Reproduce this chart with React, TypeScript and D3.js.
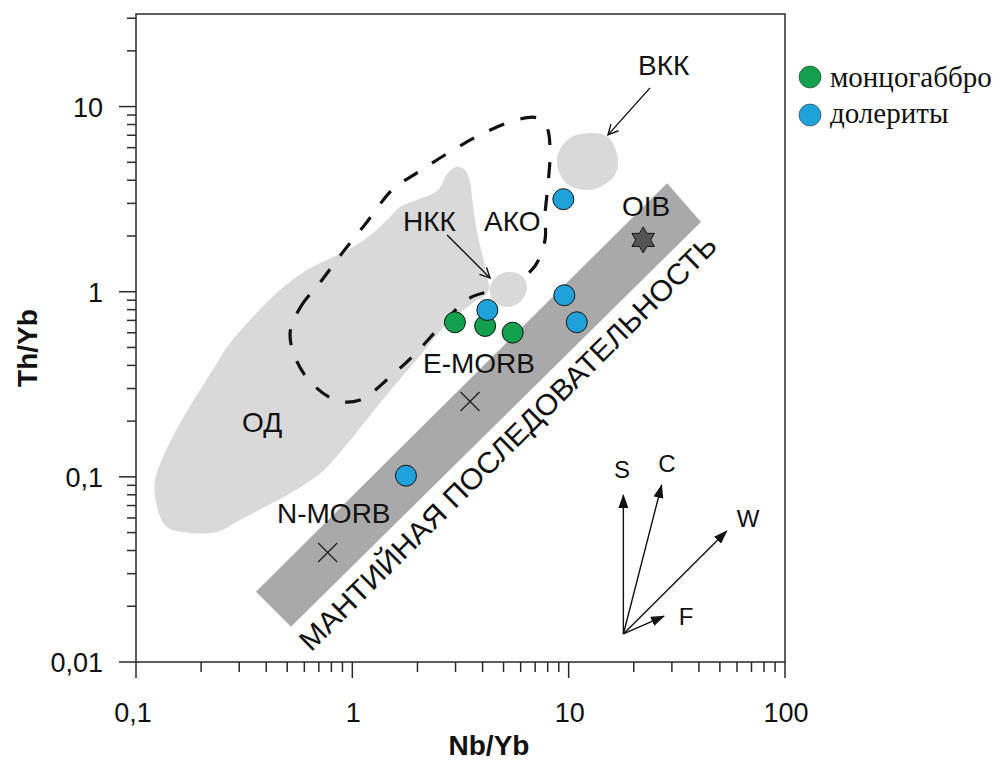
import React from 'react';
import * as d3 from 'd3';

// ---- axis ticks ----
const xMajorTicks = [0.1, 1, 10, 100];
const xTickLabels = ['0,1', '1', '10', '100'];
const yMajorTicks = [0.01, 0.1, 1, 10];
const yTickLabels = ['0,01', '0,1', '1', '10'];
const yExtraMinor = [20, 30];

// ---- samples (Nb/Yb, Th/Yb) ----
const moncogabbro: [number, number][] = [[2.98, 0.684], [4.11, 0.653], [5.51, 0.601]];
const dolerites: [number, number][] = [[9.45, 3.16], [4.21, 0.797], [9.55, 0.957], [10.9, 0.684], [1.77, 0.1015]];
const oibPoint: [number, number] = [22.1, 1.905];
const morbNames = ['E-MORB', 'N-MORB'];
const morbPoints: [number, number][] = [[3.5, 0.255], [0.769, 0.039]];
const morbLabelPos: [number, number][] = [[2.121, 0.3642], [0.4485, 0.0564]];

// ---- fields ----
const mantleBand: [number, number][] = [[0.3587, 0.02398], [28.5, 3.857], [40.9, 2.383], [0.5206, 0.01551]];
const odField: [number, number][] = [
  [0.1224, 0.0962], [0.1333, 0.1281], [0.1598, 0.1955], [0.1976, 0.2948], [0.2368, 0.4124], [0.2635, 0.5032],
  [0.3365, 0.704], [0.463, 1.023], [0.6172, 1.311], [0.814, 1.542], [1.007, 1.746], [1.246, 2.078],
  [1.494, 2.536], [1.661, 2.872], [1.991, 3.133], [2.489, 3.548], [2.74, 4.329], [3.015, 4.723],
  [3.317, 4.55], [3.499, 3.918], [3.574, 3.252], [3.691, 2.443], [3.809, 1.978], [4.018, 1.542], [4.194, 1.202],
  [4.284, 1.023], [3.499, 0.8487], [2.7, 0.66], [2.18, 0.49], [1.6, 0.32], [1.19, 0.21],
  [0.926, 0.146], [0.728, 0.107], [0.535, 0.0835], [0.3026, 0.0585],
  [0.2368, 0.0504], [0.1777, 0.0498], [0.139, 0.0536], [0.1251, 0.0688],
];
const akoField: [number, number][] = [
  [0.5151, 0.5843], [0.5729, 0.8176], [0.7243, 1.158], [0.9056, 1.641], [1.169, 2.383], [1.542, 3.593],
  [1.991, 4.384], [2.828, 5.692], [3.975, 7.119], [5.769, 8.477], [7.139, 8.69], [7.941, 7.674],
  [8.201, 5.835], [8.026, 3.776], [7.774, 2.599], [7.774, 1.905], [6.988, 1.378], [5.356, 1.075],
  [3.499, 0.9258], [2.543, 0.6455], [1.949, 0.4613], [1.494, 0.3465], [1.085, 0.2603], [0.8317, 0.2603],
  [0.5977, 0.3597],
];
const vkkField: [number, number][] = [
  [8.834, 5.283], [10.14, 6.773], [12.82, 7.208], [15.2, 6.858], [16.91, 5.153], [16.03, 4.12], [12.55, 3.548], [9.618, 3.918],
];
const nkkField: [number, number][] = [
  [5.244, 1.279], [6.084, 1.217], [6.419, 1.048], [5.956, 0.881], [5.131, 0.828], [4.47, 0.903], [4.33, 1.048], [4.615, 1.202],
];

// ---- field labels ----
const fieldLabels = ['ВКК', 'НКК', 'АКО', 'OIB', 'ОД'];
const fieldLabelPos: [number, number][] = [[20.92, 14.84], [1.715, 2.13], [4.064, 2.13], [17.64, 2.567], [0.309, 0.1748]];
const pointerArrows: [number, number][][] = [
  [[23.77, 12.62], [15.2, 7.031]],
  [[2.74, 2.027], [4.33, 1.187]],
];
const mantleLabel = 'МАНТИЙНАЯ ПОСЛЕДОВАТЕЛЬНОСТЬ';
const mantleLabelPos: [number, number] = [5.649, 0.1397];

// ---- process vectors ----
const vectorOrigin: [number, number] = [17.9, 0.01417];
const vectorNames = ['S', 'C', 'W', 'F'];
const vectorTips: [number, number][] = [[17.9, 0.0798], [26.9, 0.0904], [53.8, 0.051], [27.6, 0.0177]];
const vectorLabelPos: [number, number][] = [[17.64, 0.0986], [28.49, 0.1063], [67.5, 0.0536], [34.86, 0.01585]];

const legendNames = ['монцогаббро', 'долериты'];
const GREEN = '#12a04c';
const BLUE = '#1ea2d9';
const legendColors = [GREEN, BLUE];

const SANS = '"Liberation Sans", Arial, sans-serif';
const SERIF = '"Liberation Serif", "Times New Roman", serif';

function starPath(cx: number, cy: number, ro: number, ri: number, n: number) {
  const pts: [number, number][] = [];
  for (let i = 0; i < n * 2; i++) {
    const r = i % 2 === 0 ? ro : ri;
    const a = -Math.PI / 2 + (i * Math.PI) / n;
    pts.push([cx + r * Math.cos(a), cy + r * Math.sin(a)]);
  }
  return 'M' + pts.map((p) => p.join(',')).join('L') + 'Z';
}

export default function App() {
  const x = d3.scaleLog().domain([0.1, 100]).range([136, 785]);
  const y = d3.scaleLog().domain([0.01, Math.pow(10, 1.5)]).range([662, 14]);

  const closedCurve = d3
    .line<[number, number]>()
    .x((d) => x(d[0]))
    .y((d) => y(d[1]))
    .curve(d3.curveCatmullRomClosed.alpha(0.5));
  const polygon = d3
    .line<[number, number]>()
    .x((d) => x(d[0]))
    .y((d) => y(d[1]))
    .curve(d3.curveLinearClosed);

  const xMinor: number[] = [];
  [0.1, 1, 10].forEach((d) => {
    for (let k = 2; k <= 9; k++) xMinor.push(d * k);
  });
  const yMinor: number[] = [];
  [0.01, 0.1, 1].forEach((d) => {
    for (let k = 2; k <= 9; k++) yMinor.push(d * k);
  });
  yExtraMinor.forEach((v) => yMinor.push(v));

  const axisColor = '#2a2a2a';
  const [x0, x1] = x.range();
  const [yb, yt] = y.range();

  return (
    <svg width={1005} height={760} style={{ position: 'absolute', left: 0, top: 0, background: '#fff' }}>
      <defs>
        <marker id="openHead" viewBox="0 0 12 12" refX="11" refY="6" markerWidth="12" markerHeight="12" markerUnits="userSpaceOnUse" orient="auto">
          <path d="M1,1 L11,6 L1,11" fill="none" stroke="#111" strokeWidth="1.4" />
        </marker>
        <marker id="solidHead" viewBox="0 0 14 10" refX="13" refY="5" markerWidth="14" markerHeight="10" markerUnits="userSpaceOnUse" orient="auto">
          <path d="M0,0 L14,5 L0,10 Z" fill="#111" />
        </marker>
      </defs>

      {/* mantle array band */}
      <path d={polygon(mantleBand) || ''} fill="#a9a9a9" />

      {/* ОД field */}
      <path d={closedCurve(odField) || ''} fill="#d9d9d9" />

      {/* АКО dashed field */}
      <path d={closedCurve(akoField) || ''} fill="none" stroke="#111" strokeWidth={3.2} strokeDasharray="16 17" />

      {/* ВКК, НКК fields */}
      <path d={closedCurve(vkkField) || ''} fill="#d9d9d9" />
      <path d={closedCurve(nkkField) || ''} fill="#d9d9d9" />

      {/* pointer arrows */}
      {pointerArrows.map((a, i) => (
        <line key={'pa' + i} x1={x(a[0][0])} y1={y(a[0][1])} x2={x(a[1][0])} y2={y(a[1][1])} stroke="#111" strokeWidth={1.4} markerEnd="url(#openHead)" />
      ))}

      {/* field labels */}
      {fieldLabels.map((t, i) => (
        <text key={'fl' + i} x={x(fieldLabelPos[i][0])} y={y(fieldLabelPos[i][1])} fontFamily={SANS} fontSize={28} fill="#111">
          {t}
        </text>
      ))}

      {/* mantle label */}
      <text
        transform={`translate(${x(mantleLabelPos[0])},${y(mantleLabelPos[1])}) rotate(-44.8)`}
        textAnchor="middle"
        fontFamily={SANS}
        fontSize={29}
        fill="#111"
        textLength={575}
        lengthAdjust="spacingAndGlyphs"
      >
        {mantleLabel}
      </text>

      {/* MORB crosses */}
      {morbPoints.map((p, i) => {
        const cx = x(p[0]);
        const cy = y(p[1]);
        const s = 9.5;
        return (
          <g key={'m' + i} stroke="#222" strokeWidth={1.4}>
            <line x1={cx - s} y1={cy - s} x2={cx + s} y2={cy + s} />
            <line x1={cx - s} y1={cy + s} x2={cx + s} y2={cy - s} />
          </g>
        );
      })}
      {morbNames.map((t, i) => (
        <text key={'mn' + i} x={x(morbLabelPos[i][0])} y={y(morbLabelPos[i][1])} fontFamily={SANS} fontSize={28} fill="#111">
          {t}
        </text>
      ))}

      {/* OIB star */}
      <path d={starPath(x(oibPoint[0]), y(oibPoint[1]), 13, 7.5, 6)} fill="#555" stroke="#111" strokeWidth={1} />

      {/* samples */}
      {moncogabbro.map((p, i) => (
        <circle key={'g' + i} cx={x(p[0])} cy={y(p[1])} r={10.5} fill={GREEN} stroke="#111" strokeWidth={1} />
      ))}
      {dolerites.map((p, i) => (
        <circle key={'b' + i} cx={x(p[0])} cy={y(p[1])} r={10.5} fill={BLUE} stroke="#111" strokeWidth={1} />
      ))}

      {/* process vectors */}
      {vectorTips.map((t, i) => (
        <line key={'v' + i} x1={x(vectorOrigin[0])} y1={y(vectorOrigin[1])} x2={x(t[0])} y2={y(t[1])} stroke="#111" strokeWidth={1.4} markerEnd="url(#solidHead)" />
      ))}
      {vectorNames.map((t, i) => (
        <text key={'vn' + i} x={x(vectorLabelPos[i][0])} y={y(vectorLabelPos[i][1])} textAnchor="middle" fontFamily={SANS} fontSize={24} fill="#111">
          {t}
        </text>
      ))}

      {/* frame */}
      <rect x={x0} y={yt} width={x1 - x0} height={yb - yt} fill="none" stroke={axisColor} strokeWidth={1.5} />

      {/* x ticks */}
      {xMajorTicks.map((v, i) => (
        <g key={'xt' + i}>
          <line x1={x(v)} x2={x(v)} y1={yb} y2={yb + 16} stroke={axisColor} strokeWidth={1.5} />
          <text x={x(v) + (i === 0 ? -3 : 1)} y={722} textAnchor="middle" fontFamily={SANS} fontSize={27} fill="#111">
            {xTickLabels[i]}
          </text>
        </g>
      ))}
      {xMinor.map((v, i) => (
        <line key={'xm' + i} x1={x(v)} x2={x(v)} y1={yb} y2={yb + 10} stroke={axisColor} strokeWidth={1.5} />
      ))}

      {/* y ticks */}
      {yMajorTicks.map((v, i) => (
        <g key={'yt' + i}>
          <line x1={x0 - 17} x2={x0} y1={y(v)} y2={y(v)} stroke={axisColor} strokeWidth={1.5} />
          <text x={103} y={y(v) + 10} textAnchor="end" fontFamily={SANS} fontSize={27} fill="#111">
            {yTickLabels[i]}
          </text>
        </g>
      ))}
      {yMinor.map((v, i) => (
        <line key={'ym' + i} x1={x0 - 9} x2={x0} y1={y(v)} y2={y(v)} stroke={axisColor} strokeWidth={1.5} />
      ))}

      {/* axis titles */}
      <text x={489} y={755} textAnchor="middle" fontFamily={SANS} fontWeight="bold" fontSize={28} fill="#111">
        Nb/Yb
      </text>
      <text transform="translate(37,348) rotate(-90)" textAnchor="middle" fontFamily={SANS} fontWeight="bold" fontSize={28} fill="#111">
        Th/Yb
      </text>

      {/* legend */}
      {legendNames.map((t, i) => (
        <g key={'lg' + i}>
          <circle cx={810} cy={77 + i * 38} r={11} fill={legendColors[i]} stroke="#333" strokeWidth={0.6} />
          <text x={830} y={87 + i * 36} fontFamily={SERIF} fontSize={29} fill="#111">
            {t}
          </text>
        </g>
      ))}
    </svg>
  );
}
